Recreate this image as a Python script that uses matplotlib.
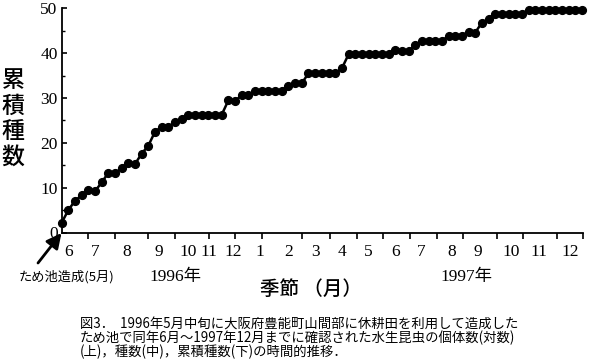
import numpy as np
import matplotlib
matplotlib.use('Agg')
from matplotlib import pyplot as plt

# cumulative number of species, one value per survey
cum_species = [
    2.2, 5.0, 7.1, 8.3, 9.4, 9.2, 11.2, 13.3, 13.2, 14.4,
    15.5, 15.3, 17.6, 19.4, 22.5, 23.6, 23.6, 24.6, 25.4, 26.3,
    26.3, 26.3, 26.3, 26.3, 26.3, 29.5, 29.4, 30.6, 30.6, 31.6,
    31.6, 31.6, 31.6, 31.6, 32.7, 33.4, 33.3, 35.5, 35.5, 35.5,
    35.5, 35.5, 36.6, 39.7, 39.7, 39.7, 39.7, 39.7, 39.7, 39.7,
    40.6, 40.5, 40.4, 41.8, 42.7, 42.7, 42.7, 42.7, 43.9, 43.9,
    43.9, 44.8, 44.6, 46.8, 47.6, 48.8, 48.8, 48.8, 48.8, 48.8,
    49.7, 49.7, 49.7, 49.7, 49.7, 49.7, 49.7, 49.7, 49.7,
]
survey = np.arange(len(cum_species))

# month boundaries (survey index) and month labels
month_edges = [4.0, 8.0, 13.0, 17.0, 22.1, 26.0, 30.0, 36.0, 40.2, 44.2,
               48.2, 52.2, 56.2, 60.2, 65.2, 69.2, 74.2, 78.2]
month_pos = [1.0, 5.0, 9.8, 14.5, 19.0, 22.0, 25.7, 29.7, 34.0, 38.0,
             42.0, 45.9, 50.0, 53.9, 58.4, 62.4, 67.4, 71.5, 76.2]
month_labels = ['6', '7', '8', '9', '10', '11', '12', '1', '2', '3',
                '4', '5', '6', '7', '8', '9', '10', '11', '12']

W, H = 591, 363
serif = ['Liberation Serif', 'Noto Sans CJK JP']
jp = ['Noto Sans CJK JP', 'DejaVu Sans']

def fx(px):
    return px / W

def fy(py):
    return 1 - py / H

fig = plt.figure(figsize=(W / 100, H / 100), dpi=100)
ax = fig.add_axes([fx(61.7), fy(232.5), (583.3 - 61.7) / W, (232.5 - 8.3) / H])

ax.plot(survey, cum_species, color='black', lw=1.8, marker='o', ms=5.6,
        mfc='black', mec='black', clip_on=False, zorder=3)

ax.set_xlim(0, 78.2)
ax.set_ylim(0, 50)
for s in ['top', 'right']:
    ax.spines[s].set_visible(False)
for s in ['left', 'bottom']:
    ax.spines[s].set_linewidth(1.3)

# x: ticks at month edges, labels between them
ax.set_xticks(month_edges)
ax.set_xticklabels([])
ax.set_xticks(month_pos, minor=True)
ax.set_xticklabels(month_labels, minor=True, family=serif, fontsize=12.5)
ax.tick_params(axis='x', which='major', direction='out', length=4.5, width=1.2)
ax.tick_params(axis='x', which='minor', length=0, pad=8)

# y: labelled every 10, small ticks every 5
ax.set_yticks(np.arange(0, 51, 10))
ax.set_yticklabels([str(v) for v in range(0, 51, 10)], family=serif, fontsize=12.5)
ax.set_yticks(np.arange(5, 50, 10), minor=True)
ax.tick_params(axis='y', which='major', direction='in', length=3.5, width=1.2, pad=3)
ax.tick_params(axis='y', which='minor', direction='in', length=2.5, width=1.0)

fig.text(fx(13), fy(119), '累\n積\n種\n数', ha='center', va='center',
         fontsize=16.5, family=jp, fontweight='medium', linespacing=1.15)

fig.text(fx(175), fy(277), '1996年', ha='center', va='center', fontsize=12.5, family=serif)
fig.text(fx(466), fy(277), '1997年', ha='center', va='center', fontsize=12.5, family=serif)
fig.text(fx(311), fy(289), '季節 （月）', ha='center', va='center', fontsize=14,
         family=jp, fontweight='medium')
fig.text(fx(67), fy(277), 'ため池造成(5月)', ha='center', va='center', fontsize=9.5,
         family=jp)

ax.annotate('', xy=(fx(61.5), fy(233)), xycoords='figure fraction',
            xytext=(fx(38), fy(263)), textcoords='figure fraction',
            arrowprops=dict(arrowstyle='-|>,head_length=0.9,head_width=0.45',
                            color='black', lw=2, shrinkA=0, shrinkB=0))

caption = ('図3．  1996年5月中旬に大阪府豊能町山間部に休耕田を利用して造成した\n'
           'ため池で同年6月〜1997年12月までに確認された水生昆虫の個体数(対数)\n'
           '(上)，種数(中)，累積種数(下)の時間的推移．')
fig.text(fx(80), fy(318), caption, ha='left', va='top', fontsize=9.6,
         family=jp, linespacing=0.92)

fig.savefig('out.png', dpi=100)
